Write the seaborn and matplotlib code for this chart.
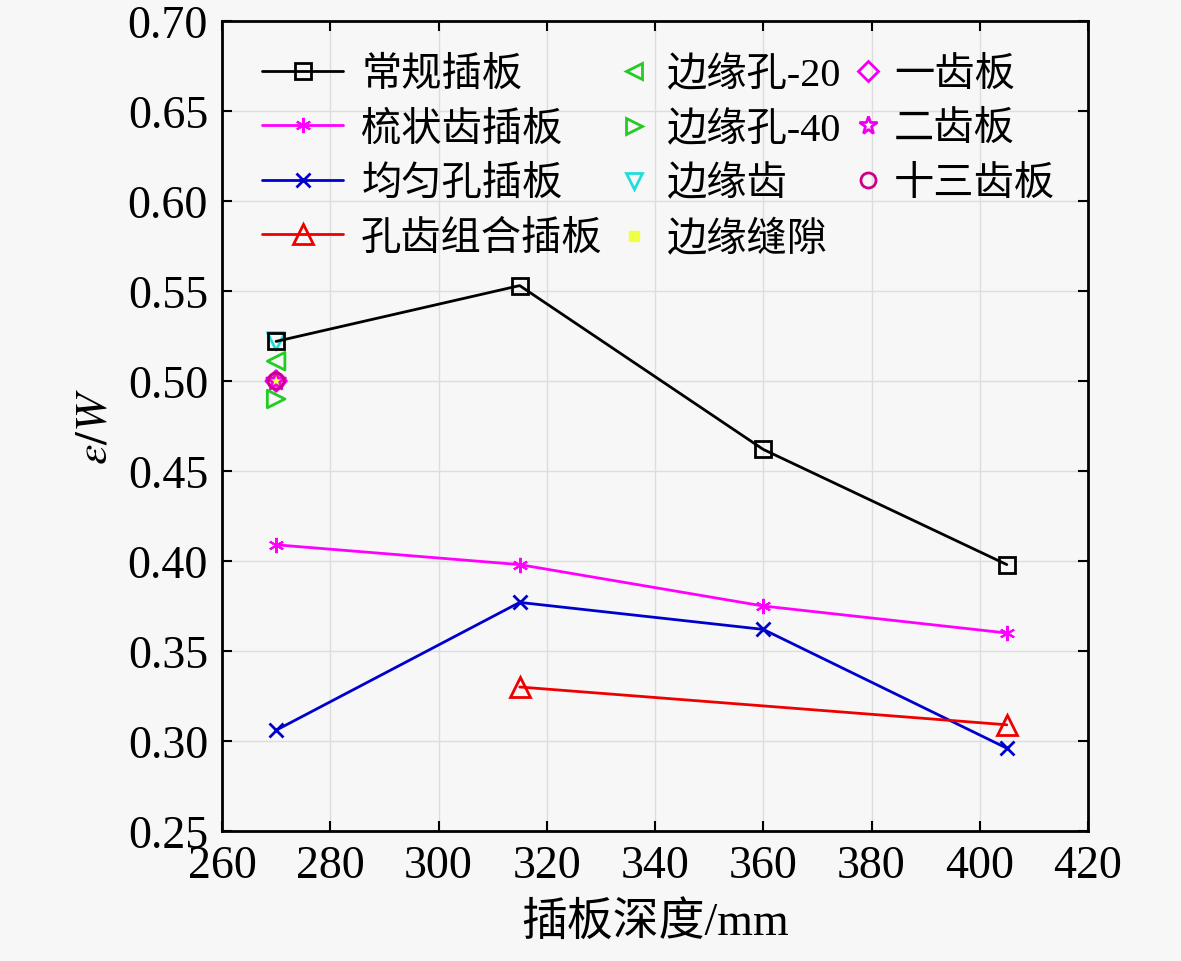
import numpy as np
import pandas as pd
import seaborn as sns
import matplotlib
matplotlib.use("Agg")
import matplotlib.pyplot as plt
from matplotlib.lines import Line2D

sns.set_theme(style="whitegrid")
plt.rcParams['font.family'] = ['Liberation Serif', 'Noto Sans CJK SC']
plt.rcParams['mathtext.fontset'] = 'stix'
plt.rcParams['text.color'] = 'black'
plt.rcParams['axes.labelcolor'] = 'black'

# data
depth = [270, 315, 360, 405]
conventional = [0.522, 0.553, 0.462, 0.398]
comb = [0.409, 0.398, 0.375, 0.360]
uniform_hole = [0.306, 0.377, 0.362, 0.296]
hole_tooth_x = [315, 405]
hole_tooth = [0.330, 0.309]

single_x = 270
edge_hole_20 = 0.511
edge_hole_40 = 0.490
edge_tooth = 0.522
one_tooth = 0.500
two_tooth = 0.500
thirteen_tooth = 0.500
edge_gap = 0.500

bg = '#f7f7f7'
fig = plt.figure(figsize=(11.81, 9.62), dpi=100, facecolor=bg)
ax = fig.add_axes([222/1181, 1-832/962, (1088-222)/1181, (832-22)/962])
ax.set_facecolor(bg)

lw = 2.0
ms = 11
series = [
    ('常规插板', depth, conventional, dict(color='black', marker='s', markersize=ms, markerfacecolor='none',
                                       markeredgecolor='black', markeredgewidth=2)),
    ('梳状齿插板', depth, comb, dict(color='#ff00ff', marker=(6, 2, 0), markersize=ms,
                                   markeredgecolor='#ff00ff', markeredgewidth=1.5)),
    ('均匀孔插板', depth, uniform_hole, dict(color='#0000cc', marker='x', markersize=ms - 1,
                                          markeredgecolor='#0000cc', markeredgewidth=2)),
    ('孔齿组合插板', hole_tooth_x, hole_tooth, dict(color='#ee0000', marker='^', markersize=ms + 3,
                                               markerfacecolor='none', markeredgecolor='#ee0000', markeredgewidth=2)),
]
handles = {}
for name, xs, ys, st in series:
    sns.lineplot(x=xs, y=ys, ax=ax, linewidth=lw, legend=False, **st)
    handles[name] = Line2D([], [], linewidth=lw, **st)

points = [
    ('边缘孔-20', edge_hole_20, dict(marker='<', s=160, facecolors='none', edgecolors='#22cc22', linewidths=2)),
    ('边缘孔-40', edge_hole_40, dict(marker='>', s=160, facecolors='none', edgecolors='#22cc22', linewidths=2)),
    ('边缘齿', edge_tooth, dict(marker='v', s=160, facecolors='none', edgecolors='#22dddd', linewidths=2)),
    ('边缘缝隙', edge_gap, dict(marker='s', s=60, facecolors='#eeff44', edgecolors='#eeff44', linewidths=1)),
    ('一齿板', one_tooth, dict(marker='D', s=110, facecolors='none', edgecolors='#ee00ee', linewidths=2)),
    ('二齿板', two_tooth, dict(marker='*', s=200, facecolors='none', edgecolors='#ee00ee', linewidths=2)),
    ('十三齿板', thirteen_tooth, dict(marker='o', s=130, facecolors='none', edgecolors='#cc0088', linewidths=2)),
]
for name, yv, st in points:
    sns.scatterplot(x=[single_x], y=[yv], ax=ax, legend=False, **st)
    handles[name] = Line2D([], [], linestyle='none', marker=st['marker'], markersize=np.sqrt(st['s']) * 0.95,
                           markerfacecolor=st['facecolors'], markeredgecolor=st['edgecolors'],
                           markeredgewidth=st['linewidths'])

ax.set_xlim(260, 420)
ax.set_ylim(0.25, 0.70)
ax.set_xticks(np.arange(260, 421, 20))
ax.set_yticks(np.arange(0.25, 0.701, 0.05))
ax.set_yticklabels([f'{v:.2f}' for v in np.arange(0.25, 0.701, 0.05)])
ax.grid(True, color='#dddddd', linewidth=1)
for s in ax.spines.values():
    s.set_color('black')
    s.set_linewidth(2)
ax.tick_params(direction='in', length=7, width=1.5, labelsize=33, colors='black',
               top=True, right=True, left=True, bottom=True, pad=10)
ax.set_xlabel('插板深度/mm', fontsize=33, labelpad=10)
ax.set_ylabel(r'$\varepsilon/W$', fontsize=33, labelpad=8)

col1 = ['常规插板', '梳状齿插板', '均匀孔插板', '孔齿组合插板']
col2 = ['边缘孔-20', '边缘孔-40', '边缘齿', '边缘缝隙']
col3 = ['一齿板', '二齿板', '十三齿板']
common = dict(frameon=False, fontsize=29, labelspacing=0.43, borderaxespad=0.0)
ytop = 0.976
leg1 = ax.legend([handles[n] for n in col1], col1, loc='upper left', bbox_to_anchor=(0.028, ytop),
                 handlelength=2.0, handletextpad=0.45, **common)
ax.add_artist(leg1)
leg2 = ax.legend([handles[n] for n in col2], col2, loc='upper left', bbox_to_anchor=(0.438, ytop),
                 handlelength=0.8, handletextpad=0.4, **common)
ax.add_artist(leg2)
leg3 = ax.legend([handles[n] for n in col3], col3, loc='upper left', bbox_to_anchor=(0.713, ytop),
                 handlelength=0.6, handletextpad=0.35, **common)

fig.savefig('out.png', dpi=100, facecolor=bg)
